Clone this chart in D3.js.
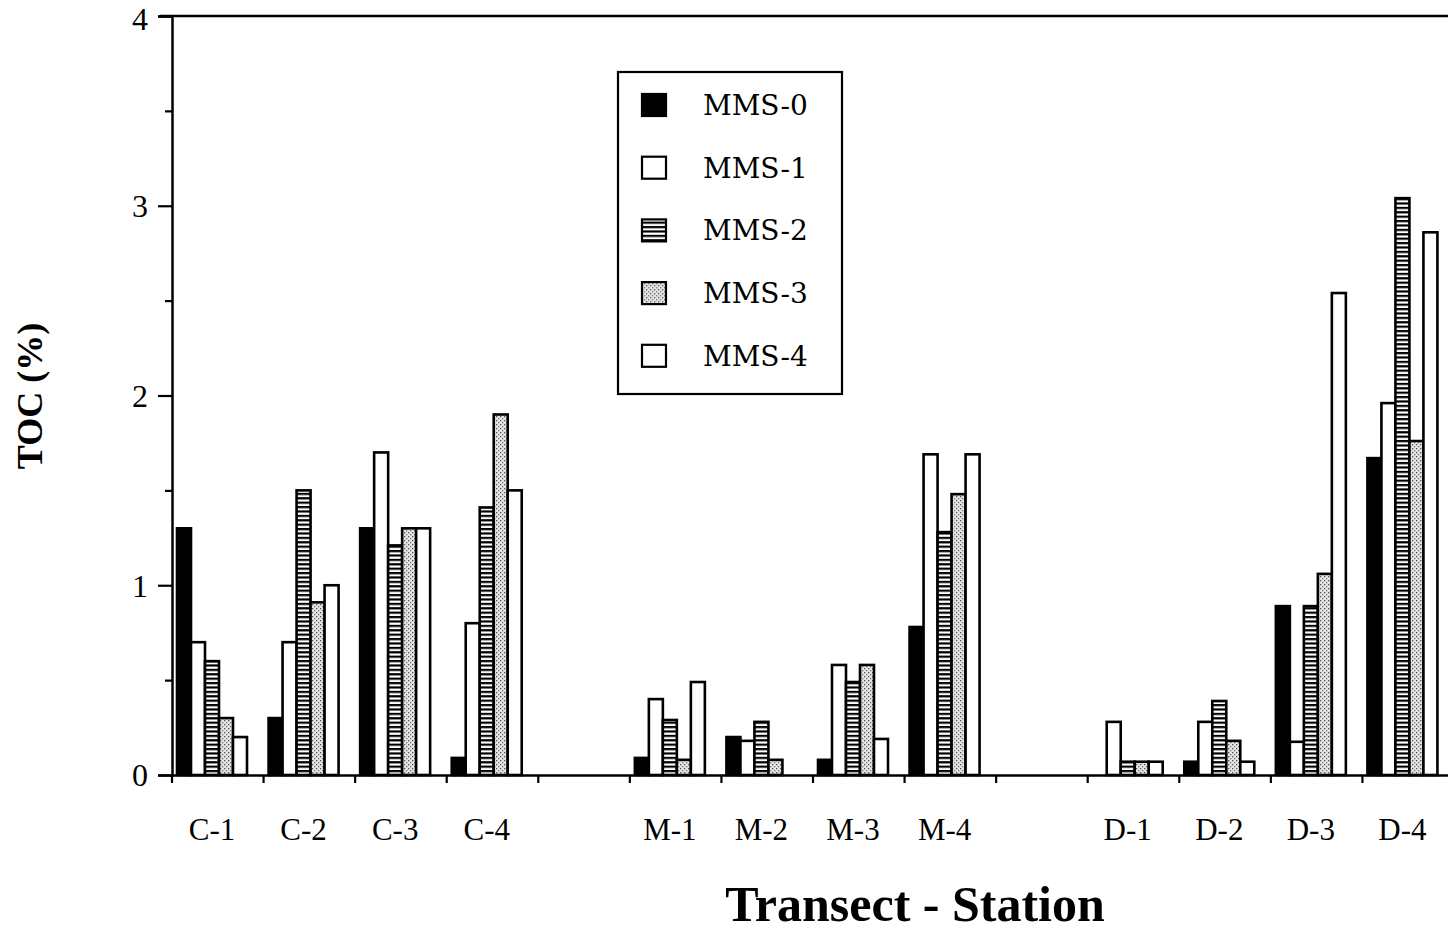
<!DOCTYPE html>
<html>
<head>
<meta charset="utf-8">
<script src="https://cdn.jsdelivr.net/npm/d3@7"></script>
<style>
  body { margin: 0; background: #fff; }
  svg { display: block; }
  text { fill: #000; }
</style>
</head>
<body>
<div id="chart"></div>
<script>

// DATA
var slots = ['C-1', 'C-2', 'C-3', 'C-4', 'gap1', 'M-1', 'M-2', 'M-3', 'M-4', 'gap2', 'D-1', 'D-2', 'D-3', 'D-4'];
var stations = ['C-1', 'C-2', 'C-3', 'C-4', 'M-1', 'M-2', 'M-3', 'M-4', 'D-1', 'D-2', 'D-3', 'D-4'];
var seriesNames = ['MMS-0', 'MMS-1', 'MMS-2', 'MMS-3', 'MMS-4'];
var mms0 = [1.3, 0.3, 1.3, 0.09, 0.09, 0.2, 0.08, 0.78, 0, 0.07, 0.89, 1.67];
var mms1 = [0.7, 0.7, 1.7, 0.8, 0.4, 0.18, 0.58, 1.69, 0.28, 0.28, 0.175, 1.96];
var mms2 = [0.6, 1.5, 1.21, 1.41, 0.29, 0.28, 0.49, 1.28, 0.07, 0.39, 0.89, 3.04];
var mms3 = [0.3, 0.91, 1.3, 1.9, 0.08, 0.08, 0.58, 1.48, 0.07, 0.18, 1.06, 1.76];
var mms4 = [0.2, 1.0, 1.3, 1.5, 0.49, 0, 0.19, 1.69, 0.07, 0.07, 2.54, 2.86];
var yTicks = [0, 1, 2, 3, 4];

var seriesValues = [mms0, mms1, mms2, mms3, mms4];

// LAYOUT (plot edges, right edge sits just past the window like the scan)
var width = 1448;
var height = 931;
var plotLeft = 172, plotRight = 1454, plotTop = 16, plotBottom = 775;

var svg = d3.select('#chart')
  .append('svg')
  .attr('width', width)
  .attr('height', height);

// PATTERNS FOR THE BAR FILLS
var defs = svg.append('defs');

var stripes = defs.append('pattern')
  .attr('id', 'stripes')
  .attr('patternUnits', 'userSpaceOnUse')
  .attr('width', 8)
  .attr('height', 4.4);
stripes.append('rect').attr('width', 8).attr('height', 4.4).attr('fill', '#fff');
stripes.append('rect').attr('y', 0).attr('width', 8).attr('height', 2.2).attr('fill', '#000');

var dots = defs.append('pattern')
  .attr('id', 'dots')
  .attr('patternUnits', 'userSpaceOnUse')
  .attr('width', 4)
  .attr('height', 4);
dots.append('rect').attr('width', 4).attr('height', 4).attr('fill', '#e4e4e4');
dots.append('rect').attr('x', 0).attr('y', 0).attr('width', 1.3).attr('height', 1.3).attr('fill', '#555');
dots.append('rect').attr('x', 2).attr('y', 2).attr('width', 1.3).attr('height', 1.3).attr('fill', '#777');

var fills = ['#000', '#fff', 'url(#stripes)', 'url(#dots)', '#fff'];

// SCALES
var x = d3.scaleBand()
  .domain(slots)
  .range([plotLeft, plotRight])
  .padding(0);

var xs = d3.scaleBand()
  .domain(seriesNames)
  .range([5, 75])
  .padding(0);

var y = d3.scaleLinear()
  .domain([0, 4])
  .range([plotBottom, plotTop]);

// BARS
var barData = [];
for (var s = 0; s < seriesNames.length; s++) {
  for (var i = 0; i < stations.length; i++) {
    if (seriesValues[s][i] > 0) {
      barData.push({ station: stations[i], series: seriesNames[s], idx: s, value: seriesValues[s][i] });
    }
  }
}

svg.append('g')
  .selectAll('rect')
  .data(barData)
  .enter()
  .append('rect')
  .attr('x', function(d) { return x(d.station) + xs(d.series); })
  .attr('y', function(d) { return y(d.value); })
  .attr('width', xs.bandwidth())
  .attr('height', function(d) { return y(0) - y(d.value); })
  .attr('fill', function(d) { return fills[d.idx]; })
  .attr('stroke', '#000')
  .attr('stroke-width', 2.6);

// FRAME (TOP + RIGHT)
svg.append('path')
  .attr('d', 'M' + (plotLeft - 12) + ',' + plotTop + 'H' + plotRight + 'V' + plotBottom)
  .attr('fill', 'none')
  .attr('stroke', '#000')
  .attr('stroke-width', 2.5);

// Y AXIS
var yAxis = svg.append('g')
  .attr('transform', 'translate(' + plotLeft + ',0)')
  .call(d3.axisLeft(y).tickValues(yTicks).tickSize(14).tickPadding(10).tickFormat(d3.format('d')));

svg.append('g')
  .attr('transform', 'translate(' + plotLeft + ',0)')
  .call(d3.axisLeft(y).tickValues([0.5, 1.5, 2.5, 3.5]).tickSize(7).tickFormat(''))
  .select('.domain').remove();

yAxis.select('.domain').attr('stroke-width', 2.5);
svg.selectAll('.tick line').attr('stroke-width', 2.2);
yAxis.selectAll('.tick text')
  .attr('font-family', '"Liberation Serif", serif')
  .attr('font-size', 32)
  .attr('dy', function(d) { return d === 4 ? '0.42em' : '0.34em'; }); // top label nudged down so it stays on the page

// X AXIS
var xAxis = svg.append('g')
  .attr('transform', 'translate(0,' + plotBottom + ')')
  .call(d3.axisBottom(x).tickValues([]).tickSizeOuter(0));
xAxis.select('.domain').attr('stroke-width', 2.5);

xAxis.selectAll('.slot-tick')
  .data(slots)
  .enter()
  .append('line')
  .attr('class', 'slot-tick')
  .attr('x1', function(d) { return x(d); })
  .attr('x2', function(d) { return x(d); })
  .attr('y1', 0)
  .attr('y2', 8)
  .attr('stroke', '#000')
  .attr('stroke-width', 2.2);

xAxis.selectAll('.slot-label')
  .data(stations)
  .enter()
  .append('text')
  .attr('class', 'slot-label')
  .attr('x', function(d) { return x(d) + 40; })
  .attr('y', 65)
  .attr('text-anchor', 'middle')
  .attr('font-family', '"Liberation Serif", serif')
  .attr('font-size', 31)
  .text(function(d) { return d; });

// AXIS TITLES
svg.append('text')
  .attr('x', 915)
  .attr('y', 921)
  .attr('text-anchor', 'middle')
  .attr('font-family', '"Liberation Serif", serif')
  .attr('font-weight', 'bold')
  .attr('font-size', 50)
  .text('Transect - Station');

svg.append('text')
  .attr('transform', 'translate(42,396) rotate(-90)')
  .attr('text-anchor', 'middle')
  .attr('font-family', '"Liberation Serif", serif')
  .attr('font-weight', 'bold')
  .attr('font-size', 36)
  .text('TOC (%)');

// LEGEND
var legend = svg.append('g')
  .attr('transform', 'translate(618,72)');

legend.append('rect')
  .attr('width', 224)
  .attr('height', 322)
  .attr('fill', '#fff')
  .attr('stroke', '#000')
  .attr('stroke-width', 2.2);

var item = legend.selectAll('.legend')
  .data(seriesNames)
  .enter()
  .append('g')
  .attr('class', 'legend')
  .attr('transform', function(d, i) { return 'translate(0,' + (33 + i * 62.7) + ')'; });

item.append('rect')
  .attr('x', 24)
  .attr('y', -11)
  .attr('width', 24)
  .attr('height', 22)
  .attr('fill', function(d, i) { return fills[i]; })
  .attr('stroke', '#000')
  .attr('stroke-width', 2.2);

item.append('text')
  .attr('x', 85)
  .attr('y', 0)
  .attr('dy', '0.36em')
  .attr('font-family', '"DejaVu Serif", serif')
  .attr('font-size', 28)
  .text(function(d) { return d; });

</script>
</body>
</html>
